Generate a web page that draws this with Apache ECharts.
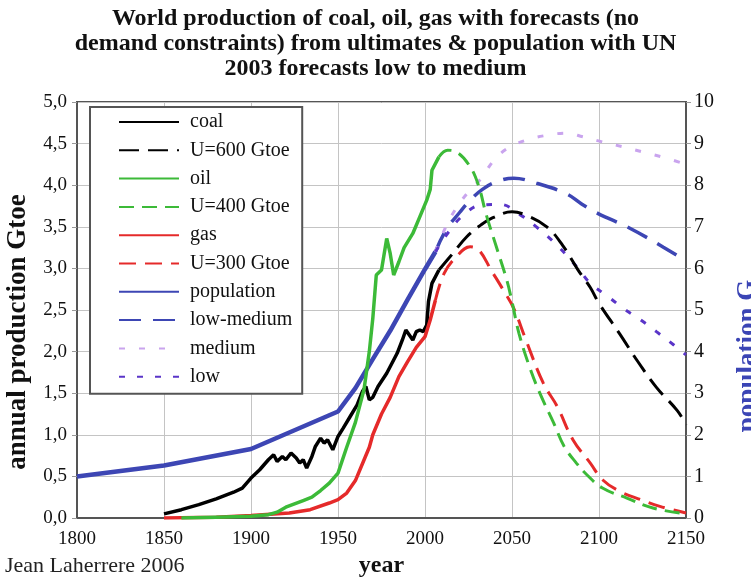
<!DOCTYPE html>
<html>
<head>
<meta charset="utf-8">
<script src="https://cdn.jsdelivr.net/npm/echarts@6/dist/echarts.min.js"></script>
<style>
  html, body { margin: 0; padding: 0; background: #fff; }
  #main { width: 751px; height: 579px; }
</style>
</head>
<body>
<div id="main"></div>
<script>
// coal, historical (Gtoe)
var coal = [
  [1850, 0.05], [1860, 0.10], [1870, 0.16], [1880, 0.23], [1890, 0.31], [1895, 0.36],
  [1900, 0.48], [1905, 0.58], [1910, 0.70], [1913, 0.76], [1915, 0.68], [1918, 0.74],
  [1920, 0.70], [1923, 0.78], [1926, 0.72], [1928, 0.66], [1930, 0.70], [1932, 0.60],
  [1935, 0.74], [1937, 0.86], [1940, 0.96], [1942, 0.90], [1944, 0.94], [1947, 0.82],
  [1950, 0.98], [1953, 1.08], [1957, 1.22], [1961, 1.36], [1964, 1.52], [1966, 1.58],
  [1968, 1.42], [1970, 1.45], [1973, 1.58], [1978, 1.74], [1984, 1.98], [1987, 2.14],
  [1989, 2.26], [1991, 2.20], [1993, 2.14], [1995, 2.24], [1997, 2.26], [1999, 2.24],
  [2001, 2.32], [2002, 2.60], [2004, 2.82], [2008, 2.98]
];
// coal forecast U=600 Gtoe
var coalU600 = [
  [2008, 2.98], [2016, 3.18], [2024, 3.38], [2032, 3.52], [2039, 3.61], [2050, 3.68],
  [2058, 3.64], [2070, 3.50], [2079, 3.28], [2088, 2.98], [2095, 2.77], [2100, 2.58],
  [2112, 2.21], [2122, 1.89], [2133, 1.57], [2145, 1.29], [2150, 1.12]
];
// oil, historical
var oil = [
  [1860, 0.00], [1880, 0.01], [1900, 0.02], [1910, 0.04], [1915, 0.07], [1920, 0.13],
  [1925, 0.17], [1930, 0.21], [1935, 0.25], [1940, 0.33], [1945, 0.42], [1950, 0.54],
  [1955, 0.85], [1960, 1.15], [1965, 1.55], [1968, 2.00], [1970, 2.40], [1972, 2.92],
  [1975, 2.98], [1978, 3.36], [1980, 3.18], [1982, 2.92], [1985, 3.08], [1988, 3.25],
  [1993, 3.42], [1997, 3.62], [2001, 3.82], [2003, 3.95], [2004, 4.18], [2008, 4.34]
];
// oil forecast U=400 Gtoe
var oilU400 = [
  [2008, 4.34], [2013, 4.42], [2018, 4.40], [2026, 4.22], [2031, 3.98], [2035, 3.66],
  [2041, 3.26], [2047, 2.86], [2050, 2.60], [2054, 2.22], [2060, 1.82], [2066, 1.50],
  [2074, 1.14], [2080, 0.86], [2087, 0.66], [2093, 0.52], [2102, 0.36], [2116, 0.24],
  [2131, 0.12], [2150, 0.05]
];
// gas, historical
var gas = [
  [1850, 0.00], [1880, 0.01], [1900, 0.03], [1922, 0.06], [1934, 0.10], [1945, 0.18],
  [1950, 0.22], [1955, 0.30], [1960, 0.45], [1965, 0.70], [1968, 0.85], [1970, 1.00],
  [1975, 1.25], [1980, 1.45], [1985, 1.70], [1990, 1.88], [1995, 2.05], [2000, 2.18],
  [2003, 2.38], [2006, 2.62]
];
// gas forecast U=300 Gtoe
var gasU300 = [
  [2006, 2.62], [2011, 2.94], [2018, 3.14], [2026, 3.26], [2031, 3.22], [2038, 2.98],
  [2045, 2.74], [2051, 2.52], [2058, 2.14], [2068, 1.62], [2076, 1.34], [2085, 0.94],
  [2095, 0.66], [2102, 0.46], [2112, 0.32], [2124, 0.22], [2135, 0.14], [2150, 0.06]
];
// population (G), historical
var population = [
  [1800, 1.00], [1850, 1.26], [1900, 1.66], [1950, 2.56], [1960, 3.12], [1970, 3.82],
  [1980, 4.50], [1990, 5.25], [2000, 5.98], [2006, 6.40]
];
// UN 2003 forecasts
var popLowMedium = [
  [2006, 6.40], [2012, 6.92], [2020, 7.35], [2026, 7.64], [2033, 7.90], [2041, 8.08],
  [2051, 8.17], [2064, 8.05], [2081, 7.80], [2090, 7.55], [2099, 7.33], [2118, 6.96],
  [2137, 6.51], [2150, 6.18]
];
var popMedium = [
  [2006, 6.40], [2012, 7.00], [2018, 7.45], [2025, 7.84], [2032, 8.15], [2040, 8.62],
  [2048, 8.90], [2058, 9.08], [2070, 9.20], [2081, 9.25], [2091, 9.16], [2102, 9.04],
  [2114, 8.92], [2125, 8.80], [2137, 8.67], [2150, 8.50]
];
var popLow = [
  [2006, 6.40], [2014, 6.90], [2022, 7.28], [2032, 7.52], [2043, 7.54], [2055, 7.28],
  [2064, 7.00], [2076, 6.55], [2088, 6.00], [2095, 5.64], [2104, 5.36], [2114, 5.04],
  [2124, 4.76], [2133, 4.48], [2143, 4.16], [2150, 3.92]
];

var serif = 'Liberation Serif';

function mkLine(name, data, color, width, dash, axis, smooth) {
  return {
    name: name,
    type: 'line',
    data: data,
    yAxisIndex: axis || 0,
    symbol: 'none',
    smooth: smooth || false,
    lineStyle: { color: color, width: width, type: dash || 'solid', cap: 'butt' },
    itemStyle: { color: color },
    z: 3
  };
}

var myChart = echarts.init(document.getElementById('main'));

var option = {
  backgroundColor: '#fff',
  animation: false,
  title: {
    text: 'World production of coal, oil, gas with forecasts (no\ndemand constraints) from ultimates & population with UN\n2003 forecasts low to medium',
    left: 'center',
    top: 1,
    textStyle: { fontFamily: serif, fontWeight: 'bold', fontSize: 24, lineHeight: 25, color: '#111' }
  },
  graphic: [{
    type: 'text',
    left: 5,
    top: 555,
    style: { text: 'Jean Laherrere 2006', font: '22px "Liberation Serif"', fill: '#222' }
  }],
  legend: {
    orient: 'vertical',
    left: 90,
    top: 107,
    padding: [5, 10, 7, 28],
    itemWidth: 60,
    itemHeight: 14,
    itemGap: 8.3,
    backgroundColor: '#fff',
    borderColor: '#555',
    borderWidth: 2,
    borderRadius: 0,
    itemStyle: { opacity: 0 },
    textStyle: { fontFamily: serif, fontSize: 20, color: '#111', padding: [0, 0, 0, 6] },
    data: ['coal', 'U=600 Gtoe', 'oil', 'U=400 Gtoe', 'gas', 'U=300 Gtoe', 'population', 'low-medium', 'medium', 'low']
  },
  grid: {
    left: 77, right: 65, top: 102, bottom: 61,
    containLabel: false,
    outerBoundsMode: 'none',
    show: true, borderColor: '#555', borderWidth: 2
  },
  xAxis: {
    type: 'value',
    min: 1800, max: 2150, interval: 50,
    name: 'year',
    nameLocation: 'middle',
    nameGap: 36,
    nameTextStyle: { fontFamily: serif, fontWeight: 'bold', fontSize: 24, color: '#111' },
    axisLine: { lineStyle: { color: '#555', width: 2 } },
    axisTick: { show: false },
    axisLabel: {
      fontFamily: serif, fontSize: 19, color: '#111', margin: 12,
      formatter: function (v) { return String(v); }
    },
    splitLine: { lineStyle: { color: '#c4c4c4', width: 1 } }
  },
  yAxis: [{
    type: 'value',
    min: 0, max: 5, interval: 0.5,
    name: 'annual production Gtoe',
    nameLocation: 'middle',
    nameGap: 45,
    nameRotate: 90,
    nameTextStyle: { fontFamily: serif, fontWeight: 'bold', fontSize: 27, color: '#111', padding: [0, 44, 0, 0] },
    axisLine: { show: true, lineStyle: { color: '#555', width: 2 } },
    axisTick: { show: true, length: 5, lineStyle: { color: '#999' } },
    axisLabel: {
      fontFamily: serif, fontSize: 19, color: '#111', margin: 10,
      formatter: function (v) { return v.toFixed(1).replace('.', ','); }
    },
    splitLine: { lineStyle: { color: '#c4c4c4', width: 1 } }
  }, {
    type: 'value',
    min: 0, max: 10, interval: 1,
    position: 'right',
    name: 'population G',
    nameLocation: 'middle',
    nameGap: 49,
    nameRotate: 90,
    nameTextStyle: { fontFamily: serif, fontWeight: 'bold', fontSize: 27, color: '#3b45b5', padding: [0, 92, 0, 0] },
    axisLine: { show: true, lineStyle: { color: '#555', width: 2 } },
    axisTick: { show: true, length: 5, lineStyle: { color: '#999' } },
    axisLabel: { fontFamily: serif, fontSize: 20, color: '#111', margin: 8 },
    splitLine: { show: false }
  }],
  series: [
    mkLine('population', population, '#3d46b4', 4.5, 'solid', 1),
    mkLine('low-medium', popLowMedium, '#3d46b4', 3.5, [22, 12], 1, 0.4),
    mkLine('medium', popMedium, '#c9a4ee', 3, [6, 14], 1, 0.4),
    mkLine('low', popLow, '#5a35c8', 3, [6, 12], 1, 0.4),
    mkLine('coal', coal, '#000', 3.5, 'solid'),
    mkLine('U=600 Gtoe', coalU600, '#000', 3, [20, 9], 0, 0.4),
    mkLine('gas', gas, '#e52a2a', 3.5, 'solid'),
    mkLine('U=300 Gtoe', gasU300, '#e52a2a', 3, [17, 9], 0, 0.4),
    mkLine('oil', oil, '#3cba38', 3.5, 'solid'),
    mkLine('U=400 Gtoe', oilU400, '#3cba38', 3, [15, 8], 0, 0.4)
  ]
};

myChart.setOption(option);
</script>
</body>
</html>
